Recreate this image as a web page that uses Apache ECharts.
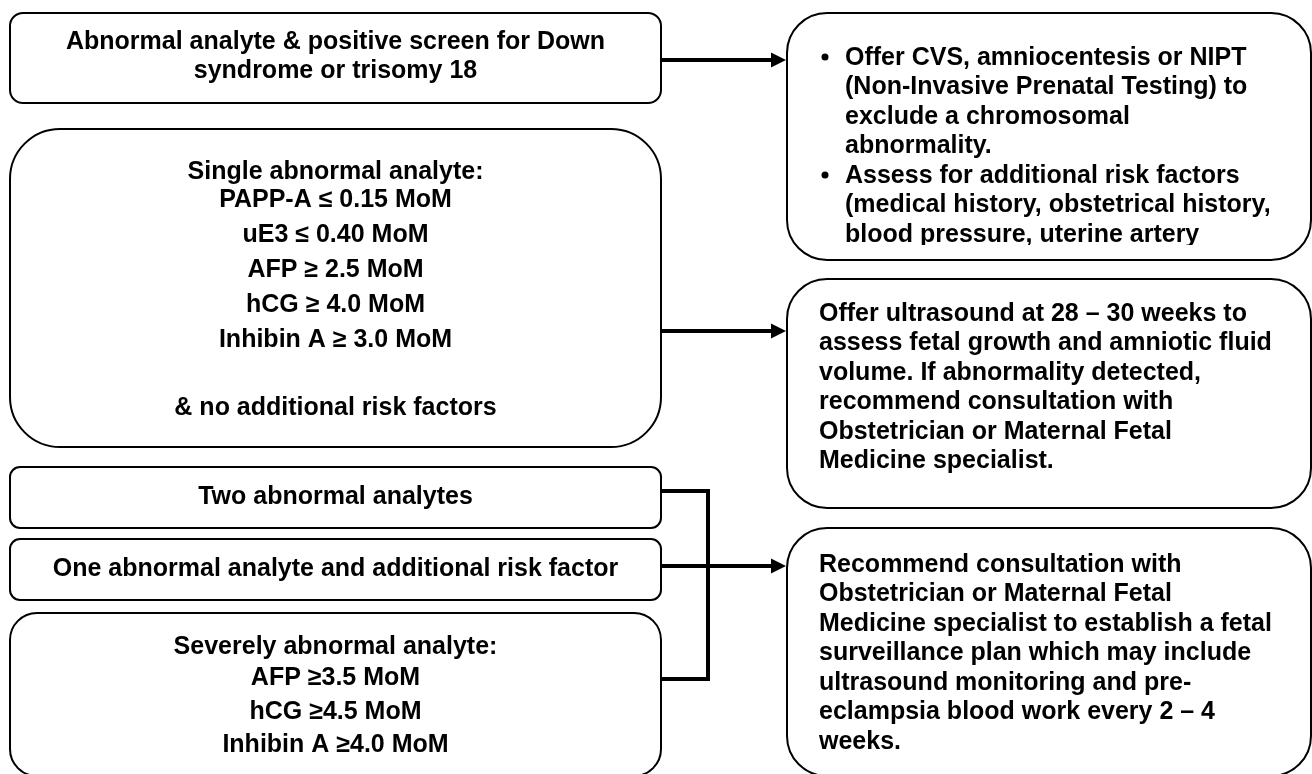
<!DOCTYPE html>
<html>
<head>
<meta charset="utf-8">
<title>Abnormal analyte follow-up</title>
<script src="https://cdn.jsdelivr.net/npm/echarts@6/dist/echarts.min.js"></script>
<style>
  html, body { margin: 0; padding: 0; background: #fff; }
  #chart { width: 1312px; height: 774px; }
</style>
</head>
<body>
<div id="chart"></div>
<script>
// texts of the boxes (left = findings, right = what to do)
var screenPositiveText = ['Abnormal analyte & positive screen for Down', 'syndrome or trisomy 18'];
var singleAnalyteText = ['Single abnormal analyte:', 'PAPP-A \u2264 0.15 MoM', 'uE3 \u2264 0.40 MoM', 'AFP \u2265 2.5 MoM',
  'hCG \u2265 4.0 MoM', 'Inhibin A \u2265 3.0 MoM', '& no additional risk factors'];
var twoAnalytesText = ['Two abnormal analytes'];
var analyteRiskText = ['One abnormal analyte and additional risk factor'];
var severeAnalyteText = ['Severely abnormal analyte:', 'AFP \u22653.5 MoM', 'hCG \u22654.5 MoM', 'Inhibin A \u22654.0 MoM'];

var invasiveAdvice = [
  ['Offer CVS, amniocentesis or NIPT', '(Non-Invasive Prenatal Testing) to', 'exclude a chromosomal', 'abnormality.'],
  ['Assess for additional risk factors', '(medical history, obstetrical history,', 'blood pressure, uterine artery']
];
var ultrasoundAdvice = ['Offer ultrasound at 28 \u2013 30 weeks to', 'assess fetal growth and amniotic fluid',
  'volume. If abnormality detected,', 'recommend consultation with', 'Obstetrician or Maternal Fetal', 'Medicine specialist.'];
var consultAdvice = ['Recommend consultation with', 'Obstetrician or Maternal Fetal', 'Medicine specialist to establish a fetal',
  'surveillance plan which may include', 'ultrasound monitoring and pre-', 'eclampsia blood work every 2 \u2013 4', 'weeks.'];

var FONT = 'bold 25px "Liberation Sans", Arial, Helvetica, sans-serif';

// flatten the bullet list
var invasiveLines = [], invasiveBullets = [];
invasiveAdvice.forEach(function (item) {
  item.forEach(function (l, j) { invasiveLines.push(l); invasiveBullets.push(j === 0); });
});

function spaced(start, gap, n) {
  var a = [];
  for (var i = 0; i < n; i++) a.push(start + gap * i);
  return a;
}

// layout in page units (the hidden axes run 0..1312 and 0..774)
var boxLayout = [
  { lines: screenPositiveText, x0: 10, y0: 13, x1: 661, y1: 103, r: 13, align: 'center', tx: 335.5, ly: [42, 71] },
  { lines: singleAnalyteText, x0: 10, y0: 129, x1: 661, y1: 447, r: 50, align: 'center', tx: 335.5, ly: [172, 200, 235, 270, 305, 340, 408] },
  { lines: twoAnalytesText, x0: 10, y0: 467, x1: 661, y1: 528, r: 10, align: 'center', tx: 335.5, ly: [497.5] },
  { lines: analyteRiskText, x0: 10, y0: 539, x1: 661, y1: 600, r: 10, align: 'center', tx: 335.5, ly: [569] },
  { lines: severeAnalyteText, x0: 10, y0: 613, x1: 661, y1: 776, r: 27, align: 'center', tx: 335.5, ly: [647, 678, 712, 745] },
  { lines: invasiveLines, bullets: invasiveBullets, x0: 787, y0: 13, x1: 1311, y1: 260, r: 40, align: 'left', tx: 845, bx: 825,
    ly: spaced(58, 29.5, 7), clipY: 245 },
  { lines: ultrasoundAdvice, x0: 787, y0: 279, x1: 1311, y1: 508, r: 40, align: 'left', tx: 819, ly: spaced(314, 29.5, 6) },
  { lines: consultAdvice, x0: 787, y0: 528, x1: 1311, y1: 776, r: 40, align: 'left', tx: 819, ly: spaced(565, 29.5, 7) }
];

var connectorLayout = [
  { pts: [[661, 60], [786, 60]], arrow: true },
  { pts: [[661, 331], [786, 331]], arrow: true },
  { pts: [[661, 491], [708, 491], [708, 679], [661, 679]], arrow: false },
  { pts: [[661, 566], [786, 566]], arrow: true }
];

function renderBox(params, api) {
  var b = boxLayout[params.dataIndex];
  var tl = api.coord([b.x0, b.y0]), br = api.coord([b.x1, b.y1]);
  var shape = { x: tl[0], y: tl[1], width: br[0] - tl[0], height: br[1] - tl[1], r: b.r };
  var kids = [{ type: 'rect', shape: shape, style: { fill: '#fff' } }];
  b.lines.forEach(function (txt, i) {
    var p = api.coord([b.tx, b.ly[i]]);
    kids.push({ type: 'text', style: { text: txt, x: p[0], y: p[1], font: FONT, fill: '#000', align: b.align, verticalAlign: 'middle' } });
    if (b.bullets && b.bullets[i]) {
      var q = api.coord([b.bx, b.ly[i]]);
      kids.push({ type: 'circle', shape: { cx: q[0], cy: q[1] - 1, r: 3.5 }, style: { fill: '#000' } });
    }
  });
  if (b.clipY) {
    // the last line is cut off by the box in the original
    var c0 = api.coord([b.x0 + 12, b.clipY]), c1 = api.coord([b.x1 - 12, b.y1 - 2]);
    kids.push({ type: 'rect', shape: { x: c0[0], y: c0[1], width: c1[0] - c0[0], height: c1[1] - c0[1] }, style: { fill: '#fff' } });
  }
  kids.push({ type: 'rect', shape: shape, style: { fill: null, stroke: '#000', lineWidth: 2 } });
  return { type: 'group', children: kids };
}

function renderConnector(params, api) {
  var c = connectorLayout[params.dataIndex];
  var pts = c.pts.map(function (p) { return api.coord(p); });
  var kids = [];
  if (c.arrow) {
    var tip = pts[pts.length - 1];
    var line = pts.slice();
    line[line.length - 1] = [tip[0] - 13, tip[1]];
    kids.push({ type: 'polyline', shape: { points: line }, style: { stroke: '#000', lineWidth: 4, fill: null } });
    kids.push({ type: 'polygon', shape: { points: [[tip[0], tip[1]], [tip[0] - 15, tip[1] - 7.5], [tip[0] - 15, tip[1] + 7.5]] },
      style: { fill: '#000' } });
  } else {
    kids.push({ type: 'polyline', shape: { points: pts }, style: { stroke: '#000', lineWidth: 4, fill: null, lineJoin: 'miter' } });
  }
  return { type: 'group', children: kids };
}

var chart = echarts.init(document.getElementById('chart'));
chart.setOption({
  animation: false,
  backgroundColor: '#fff',
  grid: { left: 0, right: 0, top: 0, bottom: 0 },
  xAxis: { type: 'value', min: 0, max: 1312, show: false },
  yAxis: { type: 'value', min: 0, max: 774, inverse: true, show: false },
  series: [
    {
      type: 'custom', name: 'connectors', renderItem: renderConnector, silent: true, z: 1,
      data: connectorLayout.map(function (c, i) { return [i, 0]; })
    },
    {
      type: 'custom', name: 'boxes', renderItem: renderBox, silent: true, z: 2,
      data: boxLayout.map(function (b, i) { return [i, 0]; })
    }
  ]
});
</script>
</body>
</html>
